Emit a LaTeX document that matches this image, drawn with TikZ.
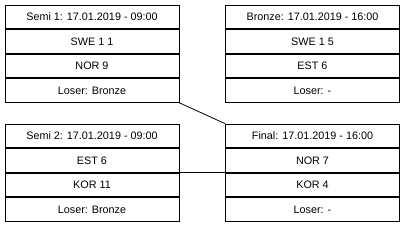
\documentclass[tikz,border=0pt]{standalone}
\usepackage{fontspec}
\setmainfont{Liberation Sans}
\usetikzlibrary{positioning}

\tikzset{
  cell/.style={draw, line width=0.8pt, minimum width=174pt, minimum height=23.75pt,
    inner sep=0pt, font=\fontsize{10.8}{13}\selectfont},
  link/.style={line width=0.8pt}
}

\begin{document}
\begin{tikzpicture}[x=1pt, y=1pt]
    \useasboundingbox (0,0) rectangle (404,-225);

    % Semi 1
    \node[cell] (s1title) at (92,-16.9) {Semi 1: 17.01.2019 - 09:00};
    \node[cell, below=0pt of s1title] (s1a) {SWE 1 1};
    \node[cell, below=0pt of s1a] (s1b) {NOR 9};
    \node[cell, below=0pt of s1b] (s1loser) {Loser: Bronze};

    % Bronze
    \node[cell] (brtitle) at (312.5,-16.9) {Bronze: 17.01.2019 - 16:00};
    \node[cell, below=0pt of brtitle] (bra) {SWE 1 5};
    \node[cell, below=0pt of bra] (brb) {EST 6};
    \node[cell, below=0pt of brb] (brloser) {Loser: -};

    % Semi 2
    \node[cell] (s2title) at (92,-135.9) {Semi 2: 17.01.2019 - 09:00};
    \node[cell, below=0pt of s2title] (s2a) {EST 6};
    \node[cell, below=0pt of s2a] (s2b) {KOR 11};
    \node[cell, below=0pt of s2b] (s2loser) {Loser: Bronze};

    % Final
    \node[cell] (fintitle) at (312.5,-135.9) {Final: 17.01.2019 - 16:00};
    \node[cell, below=0pt of fintitle] (fina) {NOR 7};
    \node[cell, below=0pt of fina] (finb) {KOR 4};
    \node[cell, below=0pt of finb] (finloser) {Loser: -};

    % winners into the final
    \draw[link] (s1loser.south east) -- (fintitle.north west);
    \draw[link] (s2a.south east) -- (fina.south west);
\end{tikzpicture}
\end{document}
